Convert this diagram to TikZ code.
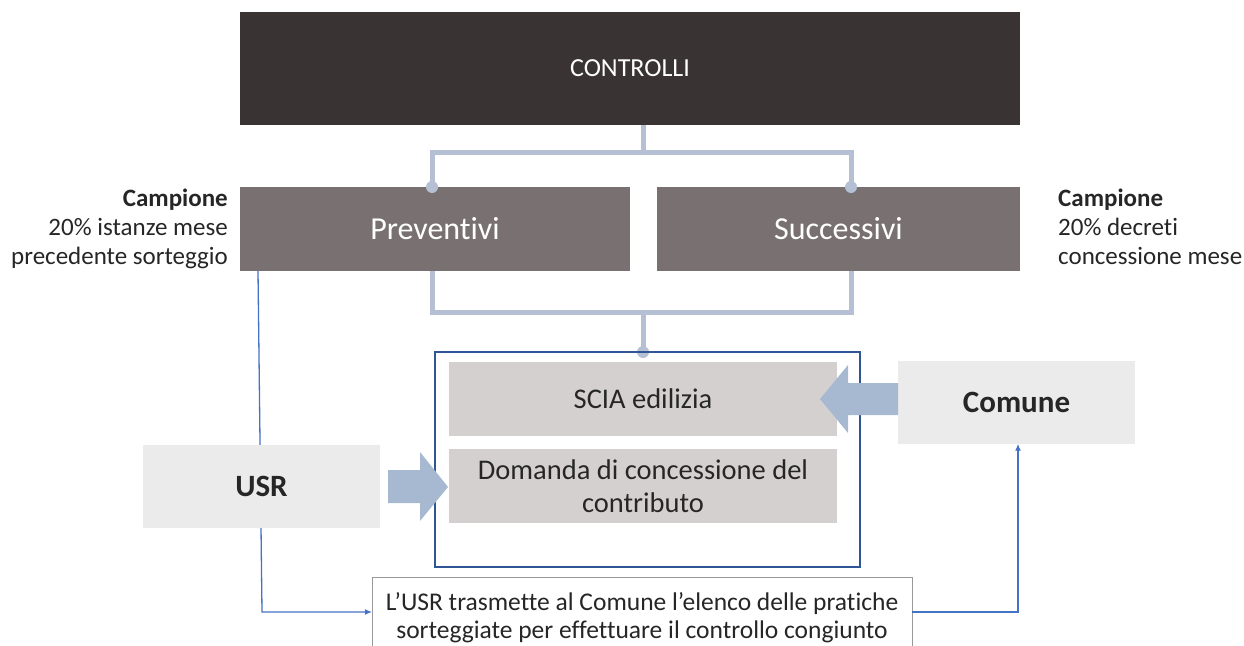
\documentclass[tikz,border=0pt]{standalone}
\usepackage{fontspec}
\setmainfont{Carlito}[Ligatures={NoCommon}]
\usetikzlibrary{calc,arrows.meta}
\definecolor{darkbox}{HTML}{3A3333}
\definecolor{midbox}{HTML}{797171}
\definecolor{lightbox}{HTML}{D5D0D0}
\definecolor{palebox}{HTML}{EBEBEB}
\definecolor{conn}{HTML}{B5C0D5}
\definecolor{outl}{HTML}{2F5597}
\definecolor{bluel}{HTML}{4472C4}
\definecolor{barrow}{HTML}{A7B9D0}
\definecolor{txt}{HTML}{262626}
\tikzset{
  topbox/.style={fill=darkbox,text=white,minimum width=780pt,minimum height=113pt,font=\fontsize{26}{30}\selectfont,inner sep=0pt},
  midb/.style={fill=midbox,text=white,minimum height=84pt,font=\fontsize{32}{36}\selectfont,inner sep=0pt},
  docbox/.style={fill=lightbox,text=txt,minimum width=388pt,minimum height=74pt,font=\fontsize{28.5}{33}\selectfont,align=center,inner sep=0pt},
  actor/.style={fill=palebox,text=txt,minimum width=237pt,minimum height=83pt,font=\fontsize{31}{34}\selectfont\bfseries,inner sep=0pt},
  conline/.style={draw=conn,line width=5pt},
  dot/.style={circle,fill=conn,inner sep=0pt,minimum size=12pt},
  thinblue/.style={draw=bluel,line width=1.3pt,-{Latex[length=7pt,width=6pt]}},
  side/.style={font=\fontsize{25}{29}\selectfont,text=txt,inner sep=0pt},
  blockarrow/.style={fill=barrow,draw=none}
}
\begin{document}
\begin{tikzpicture}[x=1pt,y=-1pt]
\useasboundingbox (0,0) rectangle (1244,645);
% connector lines (behind)
\draw[conline] (643,125) -- (643,152);
\draw[conline] (432,187) -- (432,152) -- (851,152) -- (851,187);
\draw[conline] (432,271) -- (432,312) -- (851,312) -- (851,271);
\draw[conline] (643,312) -- (643,352);
% thin blue line points
\coordinate (pvl) at (258,271);
\coordinate (bl) at (262,612);
\coordinate (br) at (1018,612);
% boxes
\node[topbox] (ctrl) at (630,68.5) {CONTROLLI};
\node[midb,minimum width=390pt] (prev) at (435,229) {Preventivi};
\node[midb,minimum width=363pt] (succ) at (838.5,229) {Successivi};
\node[dot] at (432,187) {};
\node[dot] at (851,187) {};
\node[dot] at (643,352) {};
\draw[outl,line width=2pt] (435,352) rectangle (860,567);
\node[docbox] (scia) at (643,399) {SCIA edilizia};
\node[docbox] (dom) at (643,486) {Domanda di concessione del\\contributo};
\node[draw=gray!80,fill=white,minimum width=540pt,minimum height=90pt,anchor=north west,inner sep=0pt] (note) at (372,577) {};
\node[font=\fontsize{25.5}{28}\selectfont,text=txt,align=center,inner sep=0pt] (notet) at (642,618) {L’USR trasmette al Comune l’elenco delle pratiche\\sorteggiate per effettuare il controllo congiunto};
\draw[thinblue] (pvl) -- (bl) -- (bl -| note.west);
\node[actor] (usr) at (261.5,486.5) {USR};
\node[actor] (com) at (1016.5,402) {Comune};
\draw[thinblue] (note.east |- br) -- (br) -- (br |- com.south);
% block arrows
\fill[blockarrow] (388,470) -- (420,470) -- (420,452) -- (448,487) -- (420,521) -- (420,503) -- (388,503) -- cycle;
\fill[blockarrow] (898,383) -- (848,383) -- (848,365) -- (820,399) -- (848,433) -- (848,415) -- (898,415) -- cycle;
% side labels
\node[side,anchor=north east,align=right] (lcamp) at (228,189) {\textbf{Campione}\\20\% istanze mese\\precedente sorteggio};
\node[side,anchor=north west,align=left] (rcamp) at (1058,189) {\textbf{Campione}\\20\% decreti\\concessione mese};
\end{tikzpicture}
\end{document}
